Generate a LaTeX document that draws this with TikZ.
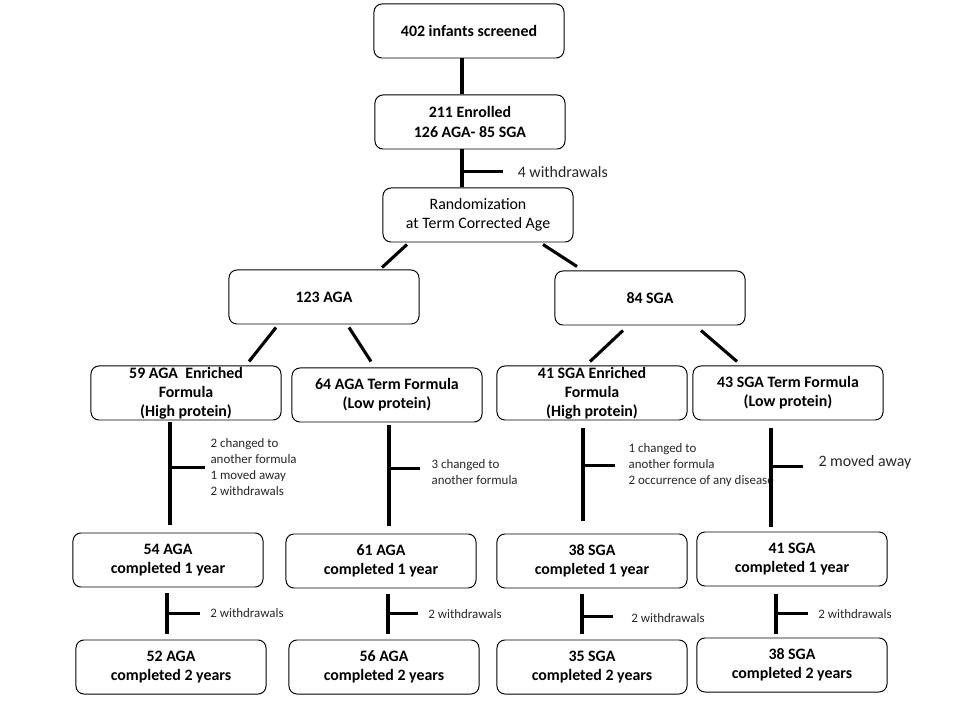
\documentclass[tikz,border=0pt]{standalone}
\usepackage{fontspec}
\setmainfont{Carlito}
\usetikzlibrary{calc,positioning}

\tikzset{
  box/.style={draw, line width=0.7pt, rounded corners=0.2cm, minimum width=4.75cm, minimum height=1.35cm,
    inner sep=0pt, align=center, font=\bfseries\fontsize{11.3}{13.6}\selectfont},
  plainbox/.style={box, font=\fontsize{11.3}{13.6}\selectfont},
  conn/.style={line width=2.2pt},
  note/.style={anchor=west, inner sep=0pt, align=left, text=black!85, font=\fontsize{9.2}{11.3}\selectfont},
  bignote/.style={note, font=\fontsize{11.3}{13.6}\selectfont}
}

\begin{document}
\begin{tikzpicture}[x=0.025cm,y=-0.025cm]
\useasboundingbox (0,0) rectangle (960,720);

% boxes
\node[box] (scr) at (469,31) {402 infants screened};
\node[box] (enr) at (470,122) {211 Enrolled\\126 AGA- 85 SGA};
\node[plainbox] (rnd) at (478,215) {Randomization\\at Term Corrected Age};
\node[box] (aga) at (324,297) {123 AGA};
\node[box] (sga) at (650,298) {84 SGA};
\node[box] (agah) at (186,393) {59 AGA\ \ Enriched\\Formula\\(High protein)};
\node[box] (agal) at (387,395) {64 AGA Term Formula\\(Low protein)};
\node[box] (sgah) at (592,393) {41 SGA Enriched\\Formula\\(High protein)};
\node[box] (sgal) at (788,393) {43 SGA Term Formula\\(Low protein)};
\node[box] (agah1) at (168,560) {54 AGA\\completed 1 year};
\node[box] (agal1) at (381,561) {61 AGA\\completed 1 year};
\node[box] (sgah1) at (592,561) {38 SGA\\completed 1 year};
\node[box] (sgal1) at (792,559) {41 SGA\\completed 1 year};
\node[box] (agah2) at (171,667) {52 AGA\\completed 2 years};
\node[box] (agal2) at (384,667) {56 AGA\\completed 2 years};
\node[box] (sgah2) at (592,667) {35 SGA\\completed 2 years};
\node[box] (sgal2) at (792,665) {38 SGA\\completed 2 years};

% top of the chart
\draw[conn] ($(scr.south)+(-7,0)$) -- ($(enr.north)+(-8,0)$);
\coordinate (e1) at ($(enr.south)+(-8,0)$);
\draw[conn] (e1) -- (e1 |- rnd.north) coordinate[pos=0.59] (e2);
\draw[conn] (e2) -- ++(41,0) node[bignote, xshift=0.33cm] {4 withdrawals};

% split by group
\draw[conn] ($(rnd.south)+(-71,2)$) -- ($(aga.north)+(58,-2)$);
\draw[conn] ($(rnd.south)+(65,2)$) -- ($(sga.north)+(-73,-4)$);
\draw[conn] ($(aga.south)+(-48,3)$) -- ($(agah.north)+(63,-4)$);
\draw[conn] ($(aga.south)+(25,3)$) -- ($(agal.north)+(-16,-6)$);
\draw[conn] ($(sga.south)+(-27,5)$) -- ($(sgah.north)+(-2,-4)$);
\draw[conn] ($(sga.south)+(51,5)$) -- ($(sgal.north)+(-51,-4)$);

% first year
\coordinate (a1) at ($(agah.south)+(-16,2)$);
\draw[conn] (a1) -- ($(a1 |- agah1.north)+(0,-8)$) coordinate[pos=0.44] (a1b);
\draw[conn] (a1b) -- ++(35,0) node[note, xshift=0.1cm] {2 changed to\\another formula\\1 moved away\\2 withdrawals};
\coordinate (a2) at ($(agal.south)+(2,3)$);
\draw[conn] (a2) -- ($(a2 |- agal1.north)+(0,-8)$) coordinate[pos=0.43] (a2b);
\draw[conn] (a2b) -- ++(31,0) node[note, xshift=0.25cm, yshift=-0.1cm] {3 changed to\\another formula};
\coordinate (s1) at ($(sgah.south)+(-9,8)$);
\draw[conn] (s1) -- ($(s1 |- sgah1.north)+(0,-13)$) coordinate[pos=0.40] (s1b);
\draw[conn] (s1b) -- ++(32,0) node[note, xshift=0.3cm] {1 changed to\\another formula\\2 occurrence of any disease};
\coordinate (s2) at ($(sgal.south)+(-17,8)$);
\draw[conn] (s2) -- ($(s2 |- sgal1.north)+(0,-5)$) coordinate[pos=0.39] (s2b);
\draw[conn] (s2b) -- ++(32,0) node[bignote, xshift=0.35cm, yshift=0.12cm] {2 moved away};

% second year
\coordinate (a3) at ($(agah1.south)+(-1,6)$);
\draw[conn] (a3) -- ($(a3 |- agah2.north)+(0,-6)$) coordinate[pos=0.5] (a3b);
\draw[conn] (a3b) -- ++(33,0) node[note, xshift=0.22cm] {2 withdrawals};
\coordinate (a4) at ($(agal1.south)+(7,6)$);
\draw[conn] (a4) -- ($(a4 |- agal2.north)+(0,-6)$) coordinate[pos=0.49] (a4b);
\draw[conn] (a4b) -- ++(30,0) node[note, xshift=0.22cm] {2 withdrawals};
\coordinate (s3) at ($(sgah1.south)+(-10,6)$);
\draw[conn] (s3) -- ($(s3 |- sgah2.north)+(0,-6)$) coordinate[pos=0.56] (s3b);
\draw[conn] (s3b) -- ++(31,0) node[note, xshift=0.42cm, yshift=-0.05cm] {2 withdrawals};
\coordinate (s4) at ($(sgal1.south)+(-16,8)$);
\draw[conn] (s4) -- ($(s4 |- sgal2.north)+(0,-4)$) coordinate[pos=0.49] (s4b);
\draw[conn] (s4b) -- ++(32,0) node[note, xshift=0.22cm] {2 withdrawals};
\end{tikzpicture}
\end{document}
